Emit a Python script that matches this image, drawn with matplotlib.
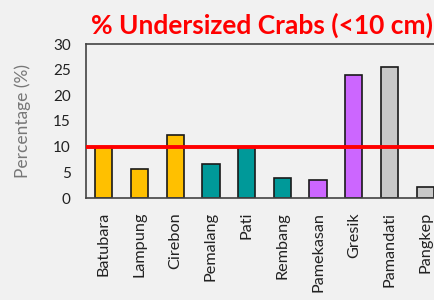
import matplotlib
matplotlib.use("Agg")
import matplotlib.pyplot as plt

categories = ["Batubara", "Lampung", "Cirebon", "Pemalang", "Pati",
              "Rembang", "Pamekasan", "Gresik", "Pamandati", "Pangkep"]
values = [9.9, 5.6, 12.3, 6.6, 9.9, 3.9, 3.5, 24.0, 25.5, 2.1]
colors = ["#FFC000", "#FFC000", "#FFC000", "#009999", "#009999",
          "#009999", "#CC66FF", "#CC66FF", "#C8C8C8", "#C8C8C8"]
threshold = 10
yticks = [0, 5, 10, 15, 20, 25, 30]

plt.rcParams['font.family'] = ['Lato', 'DejaVu Sans']
bg = "#F1F1F1"
fig = plt.figure(figsize=(4.34, 3.0), dpi=100, facecolor=bg)
ax = fig.add_axes([86/434, 102/300, (443-86)/434, (198-44)/300], facecolor=bg)

x = range(len(categories))
ax.bar(x, values, width=0.48, color=colors, edgecolor="#1a1a1a", linewidth=1.2, zorder=2)
ax.axhline(threshold, color="#FF0000", linewidth=2.8, zorder=3)

ax.set_xlim(-0.5, len(categories) - 0.5)
ax.set_ylim(0, 30)
ax.set_yticks(yticks)
ax.set_xticks(list(x))
ax.set_xticklabels(categories, rotation=90, fontsize=11.7, color="#222222")
ax.tick_params(axis='y', labelsize=11, colors="#222222", length=0, pad=11)
ax.tick_params(axis='x', length=0, pad=10)
for s in ax.spines.values():
    s.set_color("#444444")
    s.set_linewidth(1.2)

ax.set_ylabel("Percentage (%)", fontsize=12.5, color="#777777")
ax.yaxis.set_label_coords(-0.155, 0.5)
fig.text(262/434, 1 - 25/300, "% Undersized Crabs (<10 cm)", color="#FF0000",
         fontsize=19, fontweight="bold", ha="center", va="center")

fig.savefig("out.png", dpi=100, facecolor=bg)
